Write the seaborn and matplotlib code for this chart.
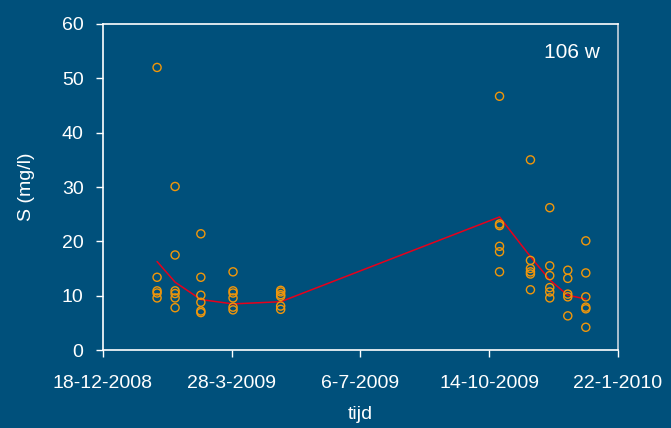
import pandas as pd
import matplotlib
matplotlib.use("Agg")
import matplotlib.pyplot as plt
import seaborn as sns

# sample dates (one column of points per date)
sample_dates = ["2009-01-29", "2009-02-12", "2009-03-04", "2009-03-29", "2009-05-05",
                "2009-10-22", "2009-11-15", "2009-11-30", "2009-12-14", "2009-12-28"]

# measured S (mg/l) per sample date
s_values = [
    [52.0, 13.4, 10.9, 10.5, 9.6],
    [30.1, 17.5, 10.9, 10.4, 9.6, 7.8],
    [21.4, 13.4, 10.1, 8.8, 7.2, 6.9],
    [14.4, 10.9, 10.5, 9.6, 7.9, 7.4],
    [11.0, 10.7, 10.2, 9.9, 8.1, 7.5],
    [46.7, 23.2, 22.9, 19.1, 18.1, 14.4],
    [35.0, 16.5, 15.0, 14.4, 14.0, 11.1],
    [26.2, 15.5, 13.7, 11.5, 10.7, 9.6],
    [14.7, 13.2, 10.3, 9.8, 6.3],
    [20.1, 14.2, 9.8, 7.9, 7.6, 4.2],
]

# red trend line
trend_values = [16.3, 12.5, 9.3, 8.5, 8.9, 24.5, 17.2, 12.9, 10.1, 9.4]

tick_dates = ["2008-12-18", "2009-03-28", "2009-07-06", "2009-10-14", "2010-01-22"]
tick_labels = ["18-12-2008", "28-3-2009", "6-7-2009", "14-10-2009", "22-1-2010"]

bg = "#00507B"
orange = "#F0960A"
red = "#E8001A"

rows = []
for d, vals in zip(sample_dates, s_values):
    for v in vals:
        rows.append({"datum": pd.Timestamp(d), "S": v})
df = pd.DataFrame(rows)
trend = pd.DataFrame({"datum": pd.to_datetime(sample_dates), "S": trend_values})

sns.set_style("white")
plt.rcParams["font.family"] = ["Liberation Sans", "DejaVu Sans"]

fig = plt.figure(figsize=(6.71, 4.28), dpi=100, facecolor=bg)
ax = fig.add_axes([0.1535, 0.182, 0.7675, 0.762])
ax.set_facecolor(bg)

sns.lineplot(data=trend, x="datum", y="S", color=red, linewidth=1.1, ax=ax)
sns.scatterplot(data=df, x="datum", y="S", marker="o", s=34,
                facecolors="none", edgecolor=orange, linewidth=1.0, ax=ax, zorder=3)

ax.set_xlim(pd.Timestamp(tick_dates[0]), pd.Timestamp(tick_dates[-1]))
ax.set_ylim(0, 60)
ax.set_yticks(range(0, 61, 10))
ax.set_xticks(pd.to_datetime(tick_dates))
ax.set_xticklabels(tick_labels)

for sp in ax.spines.values():
    sp.set_color("white")
    sp.set_linewidth(1.2)
ax.spines["right"].set_color("#c8d4de")

ax.tick_params(axis="both", colors="white", labelcolor="white", labelsize=14,
               direction="out", length=5, width=1, bottom=True, left=True)
ax.tick_params(axis="x", pad=13)
ax.tick_params(axis="y", pad=9)
ax.set_xlabel("tijd", color="white", fontsize=14, labelpad=10)
ax.set_ylabel("S (mg/l)", color="white", fontsize=14, labelpad=19)

ax.text(0.965, 0.914, "106 w", transform=ax.transAxes, ha="right", va="center",
        color="white", fontsize=15)

fig.savefig("out.png", dpi=100, facecolor=bg)
plt.close(fig)
